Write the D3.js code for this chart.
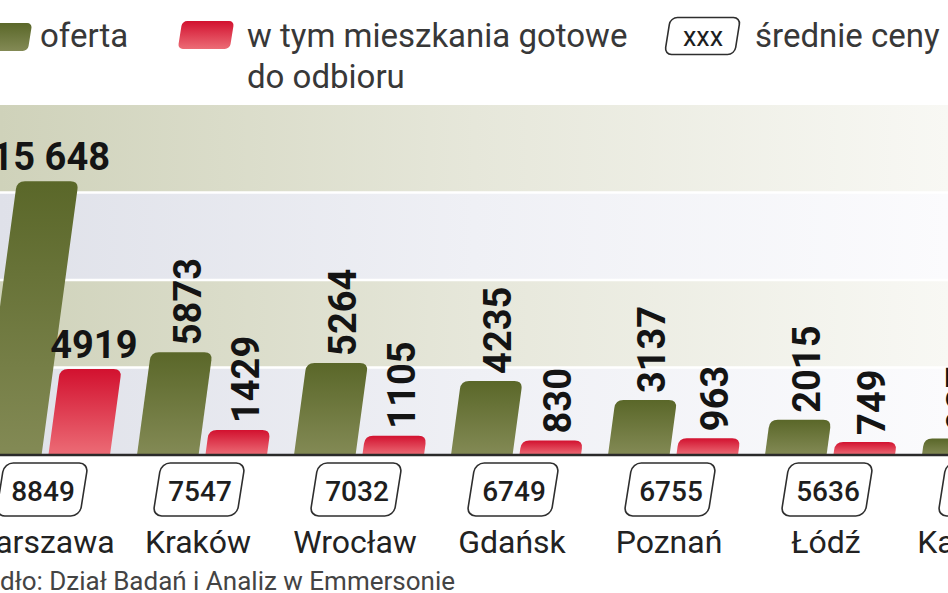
<!DOCTYPE html>
<html>
<head>
<meta charset="utf-8">
<script src="https://cdn.jsdelivr.net/npm/d3@7"></script>
<style>
  html, body { margin: 0; padding: 0; background: #fff; overflow: hidden; }
  svg { display: block; }
  text { font-family: Roboto, "Open Sans", "DejaVu Sans", sans-serif; }
</style>
</head>
<body>
<svg id="chart" width="948" height="593"></svg>
<script>
// ---------- data ----------
const cities = ["Warszawa", "Kraków", "Wrocław", "Gdańsk", "Poznań", "Łódź", "Katowice"];
const oferta = [15648, 5873, 5264, 4235, 3137, 2015, 937];
const gotowe = [4919, 1429, 1105, 830, 963, 749, null];
const ceny   = [8849, 7547, 7032, 6749, 6755, 5636, null];
const series = ["oferta", "gotowe"];
const bandTicks = [0, 5000, 10000, 15000];
const legendLabels = ["oferta", "w tym mieszkania gotowe", "do odbioru", "xxx", "średnie ceny"];
const sourceText = "Źródło: Dział Badań i Analiz w Emmersonie";

// ---------- setup ----------
const W = 948, H = 593;
const svg = d3.select("#chart");
const defs = svg.append("defs");

const y = d3.scaleLinear().domain([0, 20000]).range([455, 105]);
const step = 157;
const x = d3.scaleBand().domain(cities).range([-33.5, -33.5 + step * cities.length]).padding(0);
const xs = d3.scaleBand().domain(series).range([-65, 65]).paddingInner(0.1);
const SKEW = 0.135;

// gradients
function lin(id, x1, y1, x2, y2, stops) {
  const g = defs.append("linearGradient").attr("id", id)
    .attr("x1", x1).attr("y1", y1).attr("x2", x2).attr("y2", y2);
  stops.forEach(s => g.append("stop").attr("offset", s[0]).attr("stop-color", s[1]));
}
lin("gGreen", 0, 0, 0, 1, [[0, "#5a6729"], [1, "#838a55"]]);
lin("gRed", 0, 0, 0, 1, [[0, "#d2112f"], [1, "#ec6c76"]]);
lin("gBeige", 0, 0, 1, 0, [[0, "#cfd2ba"], [0.5, "#e6e7da"], [1, "#f8f8f4"]]);
lin("gLav", 0, 0, 1, 0, [[0, "#dfe1e9"], [0.5, "#eff0f5"], [1, "#fbfbfd"]]);

// ---------- background bands ----------
svg.append("g").selectAll("rect").data(bandTicks).join("rect")
  .attr("x", 0).attr("width", W)
  .attr("y", d => y(d + 5000))
  .attr("height", d => y(d) - y(d + 5000))
  .attr("fill", d => ((d / 5000) % 2 === 0) ? "url(#gLav)" : "url(#gBeige)");

svg.append("g").selectAll("line").data(bandTicks.slice(1)).join("line")
  .attr("x1", 0).attr("x2", W)
  .attr("y1", d => y(d)).attr("y2", d => y(d))
  .attr("stroke", "#fff").attr("stroke-width", 2.5);

// ---------- bars ----------
function barPath(x0, w, yb, yt) {
  const h = yb - yt;
  const r = Math.min(8, h);
  const sx = yy => SKEW * (yb - yy);
  const p = d3.path();
  p.moveTo(x0, yb);
  p.lineTo(x0 + sx(yt + r), yt + r);
  p.quadraticCurveTo(x0 + sx(yt), yt, x0 + sx(yt) + r, yt);
  p.lineTo(x0 + sx(yt) + w - r, yt);
  p.quadraticCurveTo(x0 + sx(yt) + w, yt, x0 + w + sx(yt + r), yt + r);
  p.lineTo(x0 + w, yb);
  p.closePath();
  return p.toString();
}

const bars = [];
cities.forEach((c, i) => {
  [oferta[i], gotowe[i]].forEach((v, j) => {
    if (v == null) return;
    bars.push({ city: c, idx: i, s: series[j], v });
  });
});

const gBars = svg.append("g");
gBars.selectAll("path").data(bars).join("path")
  .attr("d", d => {
    const x0 = x(d.city) + x.bandwidth() / 2 + xs(d.s);
    return barPath(x0, xs.bandwidth(), y(0), y(d.v));
  })
  .attr("fill", d => d.s === "oferta" ? "url(#gGreen)" : "url(#gRed)");

// value labels
const fmtBig = d3.formatLocale({ thousands: " ", grouping: [3], decimal: ",", currency: ["", ""] }).format(",");
const fmt = v => v >= 10000 ? fmtBig(v) : String(v);
function topCenter(d) {
  const x0 = x(d.city) + x.bandwidth() / 2 + xs(d.s);
  return x0 + SKEW * (y(0) - y(d.v)) + xs.bandwidth() / 2;
}
const gLab = svg.append("g")
  .attr("font-weight", 700).attr("font-size", 38).attr("fill", "#141414");
gLab.selectAll("text").data(bars).join("text")
  .attr("text-anchor", d => d.idx === 0 ? "middle" : "start")
  .attr("dominant-baseline", d => d.idx === 0 ? "auto" : "central")
  .attr("transform", d => d.idx === 0
    ? `translate(${topCenter(d) + 3},${y(d.v) - 11})`
    : `translate(${topCenter(d) + 6},${y(d.v) - 7}) rotate(-90)`)
  .text(d => fmt(d.v));

// baseline
svg.append("line").attr("x1", 0).attr("x2", W)
  .attr("y1", y(0)).attr("y2", y(0))
  .attr("stroke", "#2a2a2a").attr("stroke-width", 2.5);

// ---------- price boxes & city names ----------
const gCity = svg.append("g").selectAll("g").data(cities).join("g");
gCity.append("g")
  .attr("transform", c => `translate(${x(c) + x.bandwidth() / 2 - 3},489.5) skewX(-9)`)
  .append("rect")
  .attr("x", -42).attr("y", -26.5).attr("width", 84).attr("height", 53).attr("rx", 9)
  .attr("fill", "#fff").attr("stroke", "#2e2e2e").attr("stroke-width", 1.6);
gCity.filter((c, i) => ceny[i] != null).append("text")
  .attr("x", c => x(c) + x.bandwidth() / 2 - 2).attr("y", 491)
  .attr("text-anchor", "middle").attr("dominant-baseline", "central")
  .attr("font-size", 28).attr("font-weight", 500).attr("fill", "#1e1e1e")
  .text(c => ceny[cities.indexOf(c)]);
gCity.append("text")
  .attr("x", c => x(c) + x.bandwidth() / 2 - 4).attr("y", 553)
  .attr("text-anchor", "middle")
  .attr("font-size", 32).attr("fill", "#222")
  .text(c => c);

// source
svg.append("text").attr("x", -39).attr("y", 590)
  .attr("font-size", 26).attr("fill", "#444").text(sourceText);

// ---------- legend ----------
const lg = svg.append("g").attr("font-size", 33).attr("fill", "#383838");
lg.append("g").attr("transform", "translate(4,37) skewX(-9)")
  .append("rect").attr("x", -26).attr("y", -14).attr("width", 52).attr("height", 28).attr("rx", 5)
  .attr("fill", "url(#gGreen)");
lg.append("text").attr("x", 40).attr("y", 47).text(legendLabels[0]);
lg.append("g").attr("transform", "translate(206,35) skewX(-9)")
  .append("rect").attr("x", -26).attr("y", -14).attr("width", 52).attr("height", 28).attr("rx", 5)
  .attr("fill", "url(#gRed)");
lg.append("text").attr("x", 247).attr("y", 47).text(legendLabels[1]);
lg.append("text").attr("x", 247).attr("y", 88).text(legendLabels[2]);
lg.append("g").attr("transform", "translate(702.5,36) skewX(-9)")
  .append("rect").attr("x", -35).attr("y", -18.5).attr("width", 70).attr("height", 37).attr("rx", 7)
  .attr("fill", "#fff").attr("stroke", "#2e2e2e").attr("stroke-width", 1.6);
lg.append("text").attr("x", 703).attr("y", 37).attr("text-anchor", "middle")
  .attr("dominant-baseline", "central").attr("font-size", 27).attr("fill", "#1e1e1e")
  .text(legendLabels[3]);
lg.append("text").attr("x", 755).attr("y", 47).text(legendLabels[4]);
</script>
</body>
</html>
